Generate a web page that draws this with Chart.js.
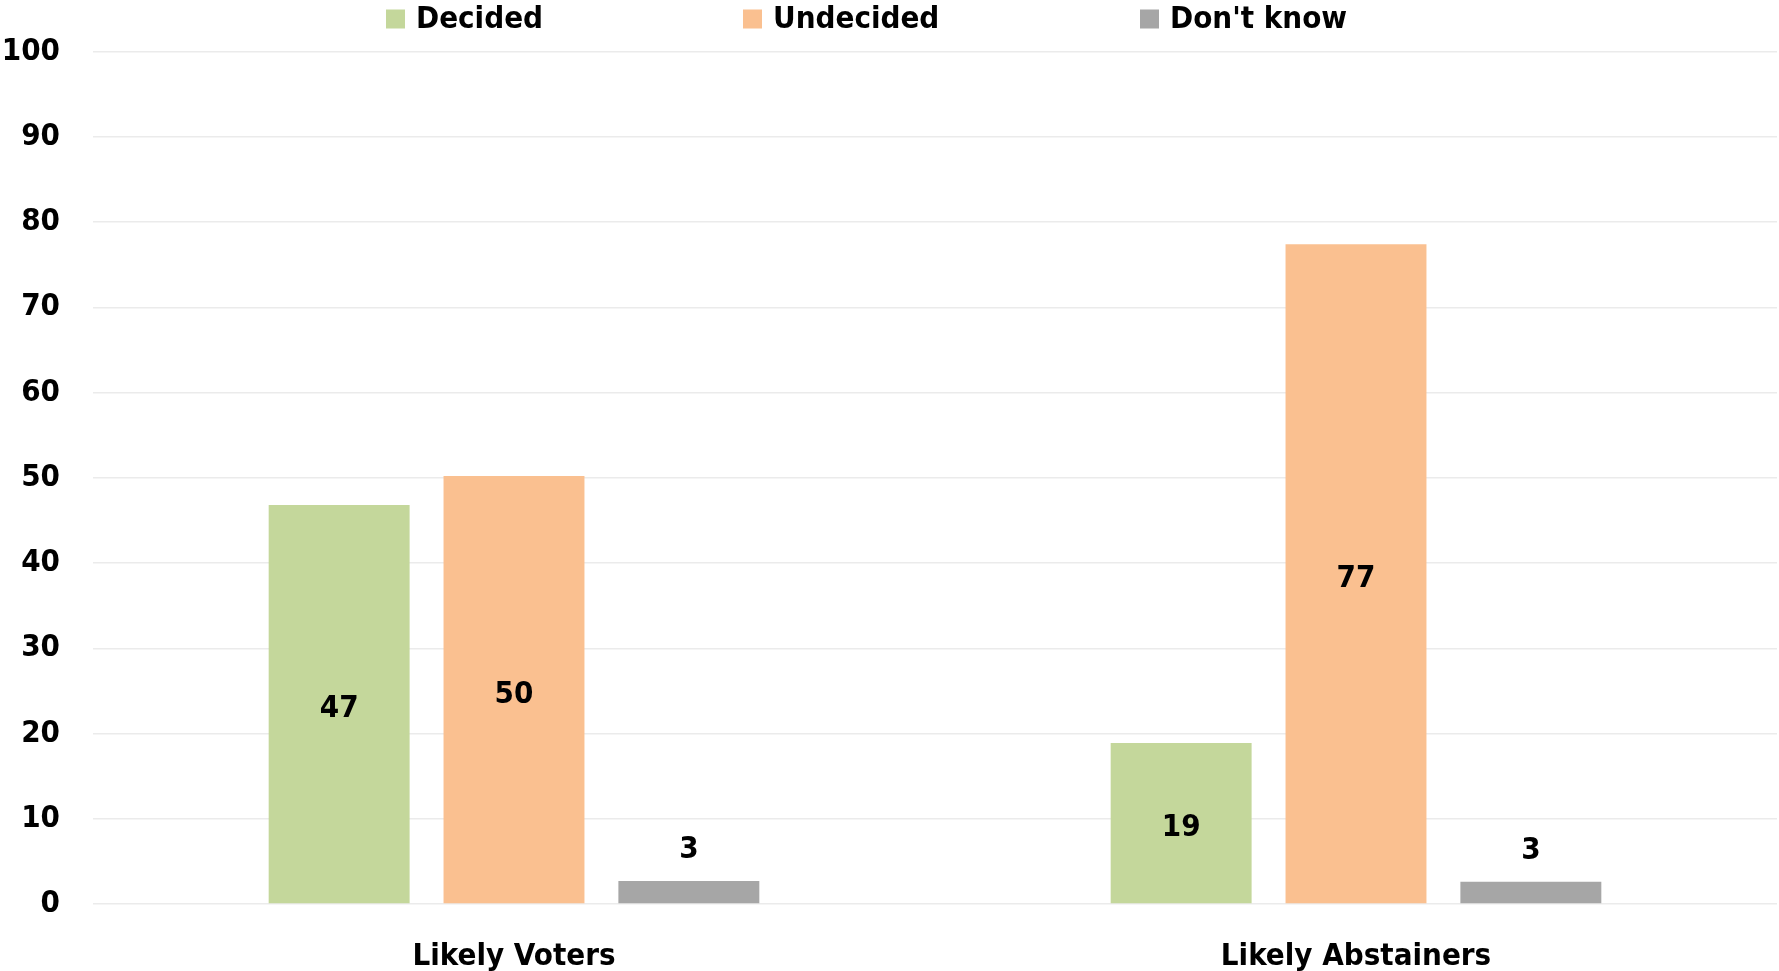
<!DOCTYPE html>
<html>
<head>
<meta charset="utf-8">
<script src="https://cdn.jsdelivr.net/npm/chart.js@4.4.1/dist/chart.umd.min.js"></script>
<style>
    html, body { margin: 0; padding: 0; background: #fff; }
    #wrap { width: 1779px; height: 971px; }
</style>
</head>
<body>
<div id="wrap"><canvas id="chart" width="1779" height="971"></canvas></div>
<script>
// Decided / Undecided / Don't know, by likely turnout group.

const CATEGORIES = ['Likely Voters', 'Likely Abstainers'];
const DECIDED = [46.8, 18.9];
const UNDECIDED = [50.2, 77.4];
const DONT_KNOW = [2.7, 2.6];
const Y_TICKS = [0, 10, 20, 30, 40, 50, 60, 70, 80, 90, 100];

const FONT_FAMILY = '"Liberation Sans Narrow", "DejaVu Sans Condensed", "Liberation Sans", sans-serif';
const FONT_SIZE = 31;

const SERIES = [
    { label: 'Decided',    data: DECIDED,   color: '#C4D79B', labelPos: 'center' },
    { label: 'Undecided',  data: UNDECIDED, color: '#FAC090', labelPos: 'center' },
    { label: "Don't know", data: DONT_KNOW, color: '#A6A6A6', labelPos: 'above' }
];

// value labels drawn on the bars
const barLabels = {
    id: 'barLabels',
    afterDatasetsDraw(chart) {
        const ctx = chart.ctx;
        ctx.save();
        ctx.font = `bold ${FONT_SIZE}px ${FONT_FAMILY}`;
        ctx.fillStyle = '#000';
        ctx.textAlign = 'center';
        ctx.textBaseline = 'middle';
        chart.data.datasets.forEach((ds, i) => {
            const meta = chart.getDatasetMeta(i);
            meta.data.forEach((bar, j) => {
                const txt = String(Math.round(ds.data[j]));
                if (SERIES[i].labelPos === 'above') {
                    ctx.fillText(txt, bar.x, bar.y - 31);
                } else {
                    ctx.fillText(txt, bar.x, (bar.y + bar.base) / 2 + 5);
                }
            });
        });
        ctx.restore();
    }
};

// legend across the top, wide spacing like the original
const topLegend = {
    id: 'topLegend',
    afterDraw(chart) {
        const ctx = chart.ctx;
        const starts = [386, 743, 1140];
        const box = 19;
        const y = 19;
        ctx.save();
        ctx.font = `bold ${FONT_SIZE}px ${FONT_FAMILY}`;
        ctx.textBaseline = 'middle';
        ctx.textAlign = 'left';
        chart.data.datasets.forEach((ds, i) => {
            const x = starts[i];
            ctx.fillStyle = ds.backgroundColor;
            ctx.fillRect(x, y - box / 2, box, box);
            ctx.fillStyle = '#000';
            ctx.fillText(ds.label, x + box + 11, y + 1);
        });
        ctx.restore();
    }
};

new Chart(document.getElementById('chart'), {
    type: 'bar',
    data: {
        labels: CATEGORIES,
        datasets: SERIES.map(s => ({
            label: s.label,
            data: s.data,
            backgroundColor: s.color,
            borderWidth: 0,
            categoryPercentage: 0.623,
            barPercentage: 0.806
        }))
    },
    options: {
        responsive: false,
        animation: false,
        layout: { padding: { top: 50, right: 2, left: 0, bottom: 0 } },
        plugins: {
            legend: { display: false },
            tooltip: { enabled: false }
        },
        scales: {
            x: {
                grid: { display: false },
                border: { display: false },
                ticks: {
                    color: '#000',
                    padding: 26,
                    font: { family: FONT_FAMILY, size: FONT_SIZE, weight: 'bold' }
                },
                afterFit(scale) { scale.height = 67; }
            },
            y: {
                min: 0,
                max: 100,
                afterBuildTicks(scale) { scale.ticks = Y_TICKS.map(v => ({ value: v })); },
                grid: { color: '#ebebeb', lineWidth: 1.5, drawTicks: false },
                border: { display: false },
                ticks: {
                    color: '#000',
                    padding: 33,
                    font: { family: FONT_FAMILY, size: FONT_SIZE, weight: 'bold' }
                },
                afterFit(scale) { scale.width = 93; }
            }
        }
    },
    plugins: [barLabels, topLegend]
});
</script>
</body>
</html>
